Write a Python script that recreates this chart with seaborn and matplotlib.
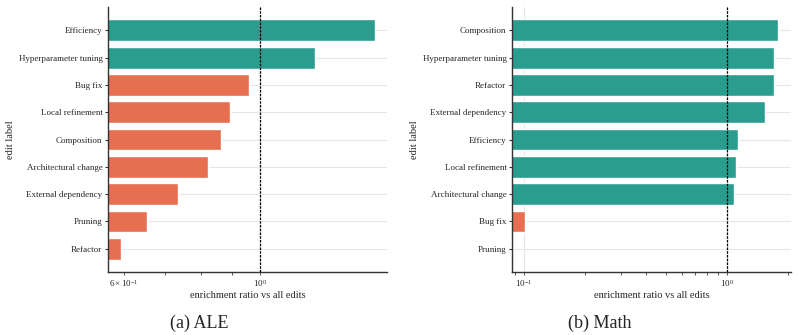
import numpy as np
import pandas as pd
import matplotlib
matplotlib.use("Agg")
import matplotlib.pyplot as plt
import seaborn as sns

# -------------------- DATA --------------------
ale_labels = ["Efficiency", "Hyperparameter tuning", "Bug fix", "Local refinement",
              "Composition", "Architectural change", "External dependency",
              "Pruning", "Refactor"]
ale_ratio = [1.54, 1.23, 0.96, 0.893, 0.864, 0.823, 0.735, 0.655, 0.593]

math_labels = ["Composition", "Hyperparameter tuning", "Refactor", "External dependency",
               "Efficiency", "Local refinement", "Architectural change", "Bug fix",
               "Pruning"]
math_ratio = [1.78, 1.70, 1.70, 1.54, 1.13, 1.11, 1.08, 0.101, 0.0]

TEAL = "#2a9d8f"
ORANGE = "#e76f51"

# -------------------- STYLE --------------------
sns.set_theme(style="whitegrid")
plt.rcParams["font.family"] = ["Liberation Serif", "DejaVu Serif"]
plt.rcParams["mathtext.fontset"] = "stix"
plt.rcParams["grid.color"] = "#e6e6e6"
plt.rcParams["grid.linewidth"] = 0.8

fig = plt.figure(figsize=(7.98, 3.35), dpi=100)
ax_a = fig.add_axes([0.1353, 0.188, 0.3496, 0.791])
ax_b = fig.add_axes([0.6416, 0.188, 0.3496, 0.791])


def draw(ax, labels, ratio, xlim):
    df = pd.DataFrame({"label": labels, "ratio": ratio})
    colors = [TEAL if r > 1 else ORANGE for r in ratio]
    sns.barplot(data=df, x="ratio", y="label", hue="label", order=labels,
                palette=colors, legend=False, width=0.8, saturation=1, ax=ax)
    ax.set_xscale("log")
    ax.set_xlim(*xlim)
    ax.set_ylim(len(labels) - 0.15, -0.85)
    ax.axvline(1.0, color="black", linestyle=(0, (2, 1)), linewidth=0.9, zorder=3)
    ax.set_axisbelow(True)
    ax.grid(True, which="major", axis="both")
    ax.grid(False, which="minor")
    for s in ["top", "right"]:
        ax.spines[s].set_visible(False)
    for s in ["left", "bottom"]:
        ax.spines[s].set_color("#333333")
        ax.spines[s].set_linewidth(1.0)
    ax.tick_params(axis="y", which="major", left=True, length=2.5, width=0.8,
                   labelsize=6.5, pad=1.5, color="#333333")
    ax.tick_params(axis="x", which="both", bottom=True, length=2.5, width=0.6,
                   labelsize=6.5, pad=1.5, color="#333333")
    ax.set_xlabel("enrichment ratio vs all edits", fontsize=7.5, labelpad=2)
    ax.set_ylabel("edit label", fontsize=7.5)
    ax.yaxis.set_label_coords(-0.335, 0.5)


draw(ax_a, ale_labels, ale_ratio, (0.565, 1.61))
draw(ax_b, math_labels, math_ratio, (0.0873, 2.07))

fig.text(0.25, 0.035, "(a) ALE", ha="center", va="center", fontsize=13)
fig.text(0.752, 0.035, "(b) Math", ha="center", va="center", fontsize=13)

fig.savefig("out.png", dpi=100)
